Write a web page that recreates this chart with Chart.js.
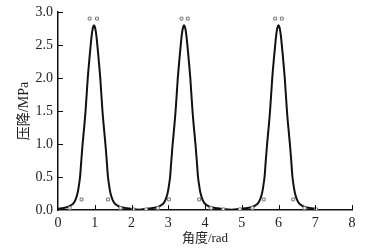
<!DOCTYPE html>
<html><head><meta charset="utf-8">
<script src="https://cdn.jsdelivr.net/npm/chart.js@4"></script>
<style>html,body{margin:0;padding:0;background:#fff}#w{width:380px;height:252px;position:relative}</style>
</head><body><div id="w"><canvas id="c"></canvas></div>
<script>
// Fitted curve
const curveX = [0, 0.15, 0.28, 0.35, 0.42, 0.48, 0.53, 0.56, 0.60, 0.63, 0.67, 0.71, 0.75, 0.81, 0.85, 0.89, 0.92, 0.95, 0.98, 1.01, 1.04, 1.07, 1.11, 1.15, 1.21, 1.25, 1.29, 1.33, 1.36, 1.40, 1.43, 1.48, 1.54, 1.61, 1.68, 1.83, 1.98, 2.2,
  2.43, 2.58, 2.73, 2.80, 2.87, 2.93, 2.98, 3.01, 3.05, 3.08, 3.12, 3.16, 3.20, 3.26, 3.30, 3.34, 3.37, 3.40, 3.43, 3.46, 3.49, 3.52, 3.56, 3.60, 3.66, 3.70, 3.74, 3.78, 3.81, 3.85, 3.88, 3.93, 3.99, 4.06, 4.13, 4.28, 4.43, 4.71,
  5.00, 5.15, 5.30, 5.37, 5.44, 5.50, 5.55, 5.58, 5.62, 5.65, 5.69, 5.73, 5.77, 5.83, 5.87, 5.91, 5.94, 5.97, 6.00, 6.03, 6.06, 6.09, 6.13, 6.17, 6.23, 6.27, 6.31, 6.35, 6.38, 6.42, 6.45, 6.50, 6.56, 6.63, 6.70, 6.85, 7.00];
const curveY = [0.02, 0.03, 0.05, 0.07, 0.10, 0.16, 0.25, 0.34, 0.50, 0.72, 1.00, 1.24, 1.50, 2.00, 2.26, 2.50, 2.66, 2.76, 2.80, 2.76, 2.66, 2.50, 2.26, 2.00, 1.50, 1.24, 1.00, 0.72, 0.50, 0.34, 0.25, 0.16, 0.10, 0.07, 0.05, 0.03, 0.02, 0.005,
  0.02, 0.03, 0.05, 0.07, 0.10, 0.16, 0.25, 0.34, 0.50, 0.72, 1.00, 1.24, 1.50, 2.00, 2.26, 2.50, 2.66, 2.76, 2.80, 2.76, 2.66, 2.50, 2.26, 2.00, 1.50, 1.24, 1.00, 0.72, 0.50, 0.34, 0.25, 0.16, 0.10, 0.07, 0.05, 0.03, 0.02, 0.005,
  0.02, 0.03, 0.05, 0.07, 0.10, 0.16, 0.25, 0.34, 0.50, 0.72, 1.00, 1.24, 1.50, 2.00, 2.26, 2.50, 2.66, 2.76, 2.80, 2.76, 2.66, 2.50, 2.26, 2.00, 1.50, 1.24, 1.00, 0.72, 0.50, 0.34, 0.25, 0.16, 0.10, 0.07, 0.05, 0.03, 0.02];
// Measured points (squares)
const pointX = [0.32, 0.64, 0.86, 1.06, 1.36, 1.70, 2.05, 2.40, 2.72, 3.02, 3.36, 3.53, 3.84, 4.16, 4.50, 4.95, 5.29, 5.60, 5.91, 6.09, 6.40, 6.71, 7.02];
const pointY = [0.03, 0.16, 2.90, 2.90, 0.16, 0.03, 0.01, 0.01, 0.03, 0.16, 2.90, 2.90, 0.16, 0.03, 0.01, 0.01, 0.03, 0.16, 2.90, 2.90, 0.16, 0.03, 0.01];
const xTicks = [0, 1, 2, 3, 4, 5, 6, 7, 8];
const yTicks = [0.0, 0.5, 1.0, 1.5, 2.0, 2.5, 3.0];
const xTitle = '角度/rad';
const yTitle = '压降/MPa';

const FONT = "'Liberation Serif','Noto Sans CJK SC',serif";

const innerTicks = {
  id: 'innerTicks',
  afterDraw(chart) {
    const {ctx, chartArea: a, scales: {x, y}} = chart;
    ctx.save();
    ctx.strokeStyle = '#111';
    ctx.lineWidth = 1;
    xTicks.forEach(v => {
      if (v === 0) return;
      const p = Math.round(x.getPixelForValue(v)) + 0.5;
      ctx.beginPath(); ctx.moveTo(p, a.bottom); ctx.lineTo(p, a.bottom - 5); ctx.stroke();
    });
    yTicks.forEach(v => {
      if (v === 0) return;
      const p = Math.round(y.getPixelForValue(v)) + 0.5;
      ctx.beginPath(); ctx.moveTo(a.left, p); ctx.lineTo(a.left + 5, p); ctx.stroke();
    });
    ctx.restore();
  }
};

new Chart(document.getElementById('c'), {
  type: 'scatter',
  data: {
    datasets: [
      {
        label: 'curve',
        data: curveX.map((v, i) => ({x: v, y: curveY[i]})),
        showLine: true,
        borderColor: '#111',
        borderWidth: 2,
        pointRadius: 0,
        tension: 0.3,
        order: 2
      },
      {
        label: 'points',
        data: pointX.map((v, i) => ({x: v, y: pointY[i]})),
        pointStyle: 'rect',
        pointRadius: 2,
        borderColor: '#777',
        borderWidth: 1,
        backgroundColor: '#fff',
        order: 1
      }
    ]
  },
  options: {
    responsive: true,
    maintainAspectRatio: false,
    animation: false,
    devicePixelRatio: 1,
    layout: {padding: {left: 16, right: 28, top: 0, bottom: 0}},
    plugins: {legend: {display: false}, tooltip: {enabled: false}},
    scales: {
      x: {
        type: 'linear', min: 0, max: 8,
        afterBuildTicks: s => { s.ticks = xTicks.map(v => ({value: v})); },
        afterFit: s => { s.height = 42; },
        grid: {display: true, drawOnChartArea: false, drawTicks: false},
        border: {display: true, color: '#111', width: 1.5},
        ticks: {color: '#222', padding: 5, maxRotation: 0, font: {family: FONT, size: 14}, callback: v => String(v)},
        title: {display: true, text: xTitle, color: '#222', font: {family: FONT, size: 13}, padding: {top: 0, bottom: 6}}
      },
      y: {
        type: 'linear', min: 0, max: 3,
        afterBuildTicks: s => { s.ticks = yTicks.map(v => ({value: v})); },
        afterFit: s => { s.width = 42; },
        grid: {display: true, drawOnChartArea: false, drawTicks: false},
        border: {display: true, color: '#111', width: 1.5},
        ticks: {color: '#222', padding: 5, font: {family: FONT, size: 14, lineHeight: 1.0}, callback: v => Number(v).toFixed(1)},
        title: {display: true, text: yTitle, color: '#222', font: {family: FONT, size: 14}, padding: {top: 0, bottom: 2}}
      }
    }
  },
  plugins: [innerTicks]
});
</script>
</body></html>
